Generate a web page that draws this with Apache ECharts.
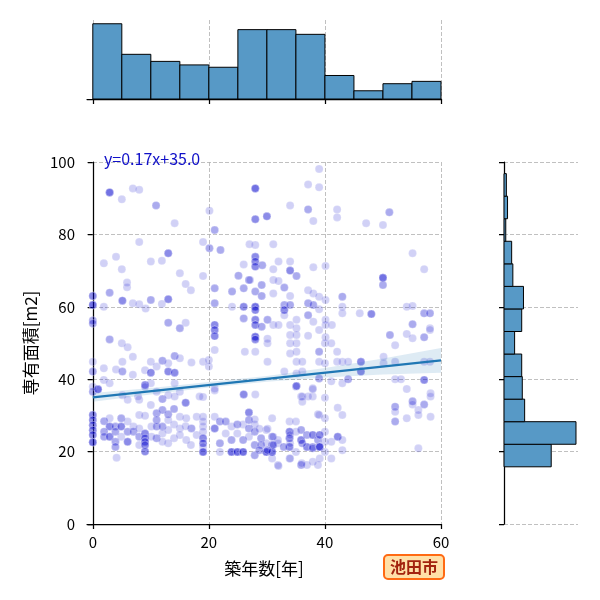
<!DOCTYPE html>
<html><head><meta charset="utf-8">
<script src="https://cdn.jsdelivr.net/npm/echarts@6/dist/echarts.min.js"></script>
<style>html,body{margin:0;padding:0;background:#fff}#c{width:600px;height:600px}</style>
</head><body><div id="c"></div>
<script>
const FONT = "'Noto Sans CJK JP', 'Noto Sans', sans-serif";
const xTicks = [0, 20, 40, 60];
const yTicks = [0, 20, 40, 60, 80, 100];
const xName = '築年数[年]';
const yName = '専有面積[m2]';
const eqText = 'y=0.17x+35.0';
const cityName = '池田市';

// scatter points: [築年数, 専有面積, 重なり件数]
const points = [
[2.9,91.6,4],[6.9,92.7,1],[8.0,92.3,1],[5.0,89.7,1],[10.9,88.0,2],[20.1,86.5,1],[14.1,83.1,1],[21.0,81.2,2],[28.0,92.7,4],[28.0,84.2,3],[8.0,77.9,1],[19.0,77.9,1],[20.1,76.2,2],[22.0,75.7,2],[13.0,74.8,3],[4.0,73.8,1],[1.9,72.0,1],[10.0,72.5,1],[11.9,72.7,1],[5.0,70.4,1],[15.0,69.3,1],[19.0,68.5,1],[16.0,66.3,1],[16.9,64.6,1],[5.9,66.7,1],[5.9,65.4,1],[2.9,63.9,2],[0,63.0,3],[0,60.5,4],[0,56.2,2],[0,55.4,2],[1.9,60.0,1],[5.1,61.7,3],[6.9,61.0,1],[8.0,60.7,1],[9.1,59.5,1],[10.0,61.9,2],[11.9,60.8,1],[13.0,62.1,3],[13.0,55.6,2],[15.0,54.1,2],[16.0,55.6,1],[21.0,65.1,2],[21.0,61.0,2],[21.0,55.0,3],[21.0,53.6,3],[21.0,51.9,3],[24.0,64.2,2],[25.1,68.6,2],[26.0,71.7,1],[26.0,65.1,2],[26.9,67.4,2],[26.0,60.0,3],[24.0,60.0,1],[26.0,56.8,2],[28.0,77.1,1],[28.0,73.8,3],[28.0,72.5,3],[28.0,71.1,3],[28.0,64.2,2],[28.0,60.0,4],[28.0,59.1,3],[28.0,56.4,3],[28.0,55.0,3],[28.0,51.7,4],[27.0,77.3,1],
[39.0,98.1,1],[37.1,93.8,1],[39.0,93.0,1],[30.0,85.0,3],[34.0,88.0,1],[37.1,86.9,2],[38.0,83.7,1],[42.1,86.9,1],[42.1,84.7,1],[47.1,83.1,1],[50.0,82.6,1],[51.1,86.1,2],[31.1,77.3,1],[29.2,71.5,2],[32.0,72.5,1],[34.0,72.5,1],[31.1,70.4,1],[34.0,70.0,3],[35.1,68.5,2],[38.0,70.9,1],[40.1,71.3,1],[27.1,67.4,1],[31.1,67.4,1],[32.0,67.1,1],[29.1,66.0,2],[33.0,65.3,2],[29.1,63.0,2],[31.1,63.7,1],[34.0,63.0,1],[37.1,64.6,1],[38.0,63.7,1],[39.0,62.8,1],[40.1,61.9,1],[43.0,62.8,2],[33.0,60.5,2],[33.0,59.1,3],[34.0,60.5,2],[37.1,61.0,2],[38.0,60.5,2],[39.0,59.3,1],[37.1,57.7,2],[33.0,57.7,1],[43.0,60.0,1],[43.0,58.2,1],[46.0,58.2,1],[48.0,58.0,3],[55.1,74.8,1],[57.1,70.4,1],[50.0,68.0,4],[50.0,66.0,2],[54.1,60.0,1],[55.1,60.2,1],[57.1,58.2,2],[58.1,58.2,2],[55.1,55.2,2],[58.1,54.1,1],[29.1,54.5,2],[30.1,56.4,2],[31.1,55.0,1],[32.0,55.0,1],[34.0,55.0,1],[35.1,56.4,1],[35.1,54.1,1],[38.0,55.9,1],[39.0,53.6,1],[40.1,56.4,1],[40.1,55.0,1],[41.2,55.0,1],[34.0,52.2,1],[35.1,52.2,1],[37.1,52.0,1],[30.1,51.2,1],[40.1,51.6,1],[51.2,52.2,2],[54.1,52.5,1],[57.1,51.6,2],
[2.9,51.0,2],[5.0,49.9,1],[6.0,48.8,1],[6.9,46.2,1],[0,44.8,1],[0,42.1,2],[1.9,43.0,1],[4.0,42.7,1],[5.1,44.8,1],[5.1,42.1,2],[6.9,41.2,1],[9.0,42.5,1],[10.0,44.8,1],[10.0,41.8,3],[11.0,43.5,1],[12.0,45.1,2],[13.0,44.4,1],[13.0,42.1,3],[14.1,46.4,2],[14.1,41.8,3],[15.0,45.8,1],[17.0,44.6,1],[19.0,44.8,1],[20.0,45.3,1],[21.0,48.1,1],[20.0,43.5,1],[26.2,47.6,1],[28.0,47.6,1],[28.0,51.0,3],
[0,36.5,2],[0.9,37.2,4],[0,37.9,1],[1.9,39.8,1],[2.9,38.9,1],[9.0,38.4,3],[10.0,38.9,1],[11.0,36.5,1],[5.1,35.6,1],[6.0,34.3,1],[8.0,34.3,1],[12.0,34.5,2],[14.1,38.9,1],[15.0,36.5,1],[16.0,33.5,3],[19.0,35.1,1],[21.0,37.4,1],[26.0,35.8,3],[28.0,35.8,1],[10.0,32.9,1],[13.0,35.6,1],[9.0,37.9,1],[7.8,35.2,1],[14.1,35.2,1],[18.4,35.2,1],
[0,30.1,3],[0,28.7,3],[0,27.3,3],[0,25.9,3],[0,24.6,3],[0,22.6,4],[1.95,28.4,2],[2.9,29.2,1],[2.9,26.9,3],[1.95,25.5,2],[1.95,24.1,2],[2.9,24.1,3],[3.9,26.9,2],[3.9,25.5,2],[3.9,22.7,2],[3.9,21.3,2],[4.9,29.2,2],[4.9,26.9,3],[4.9,24.1,1],[6.0,28.3,1],[6.0,25.5,2],[6.0,22.7,3],[7.0,25.5,2],[7.0,26.9,1],[8.0,30.1,1],[8.0,26.4,1],[8.0,24.1,2],[8.0,21.8,1],[9.0,29.9,1],[9.0,25.0,3],[9.0,23.7,3],[9.0,22.7,3],[9.0,21.8,3],[9.0,20.0,3],[10.1,26.9,1],[11.0,30.6,2],[11.0,28.7,2],[11.0,26.9,2],[11.0,23.7,2],[12.0,31.5,2],[12.0,26.9,2],[12.0,25.0,1],[13.0,30.3,2],[13.0,28.7,1],[13.0,26.0,1],[14.0,31.8,2],[14.0,23.7,1],[15.0,26.4,1],[15.0,29.6,1],[16.1,29.2,1],[16.1,23.2,1],[17.0,26.4,2],[17.9,29.6,1],[17.9,24.6,1],[4.1,18.3,1],
[14.0,27.5,1],[16.0,27.0,1],[15.0,24.6,1],[13.0,22.3,1],[12.0,22.7,1],[10.1,24.1,1],[16.9,21.8,1],
[21.0,36.9,1],[35.0,37.9,1],[35.9,35.2,1],[37.9,37.5,1],[37.9,35.2,1],[38.8,30.3,1],[26.9,30.8,3],
[19.0,29.6,1],[19.0,28.3,1],[19.0,26.9,1],[19.0,25.5,1],[19.0,23.7,3],[19.0,22.3,3],[19.0,21.3,1],[19.0,19.9,4],
[21.0,29.6,1],[21.0,26.4,3],
[21.9,28.3,2],[22.9,28.3,2],[23.9,26.9,1],[24.9,27.5,2],[25.9,27.5,1],[26.9,28.7,2],[26.9,26.4,2],[27.9,25.5,2],[27.9,27.5,1],[29.0,23.7,2],[29.9,26.0,1],[30.9,29.2,1],[30.9,24.1,2],[30.9,21.8,2],[31.9,23.2,1],[33.9,28.3,1],[35.0,28.3,1],[33.9,25.5,3],[33.9,23.7,3],[33.9,21.3,3],[35.0,25.5,1],[35.9,26.0,2],[35.9,23.2,3],[36.9,24.6,2],[36.9,21.3,3],[37.9,24.6,3],[37.9,21.3,2],[38.8,23.2,2],[22.9,25.0,1],[21.9,22.3,2],[23.9,23.2,2],[24.9,25.0,1],[25.9,23.2,2],[26.9,24.1,1],[27.9,21.8,2],[29.0,21.8,2],[29.9,22.3,1],[29.9,19.9,4],[30.9,19.9,4],[31.9,22.3,1],[32.9,21.3,2],[33.9,18.1,1],[35.0,19.9,1],[35.9,16.3,2],[36.9,16.3,1],[37.9,17.2,1],[38.8,16.3,1],[21.9,19.9,1],[23.9,19.9,4],[24.9,19.9,4],[25.9,19.9,4],[27.9,19.0,2],[30.9,18.1,1],[31.9,16.3,1],
[31.1,24.1,1],[31.1,21.8,2],[30.1,20.4,2],[34.0,24.6,1],[34.0,22.3,1],[36.1,22.3,2],[37.9,20.9,2],[39.0,21.4,2],[36.0,16.8,1],[34.0,18.1,1],[32.0,16.0,1],[27.9,28.9,1],[28.7,26.3,1],[30.1,26.3,1],[28.7,20.4,2],
[40.0,34.9,1],[42.2,32.1,1],[43.0,30.1,1],[39.0,30.1,1],[40.0,29.2,1],[40.0,25.5,1],[39.1,24.6,3],[42.2,24.1,3],[41.1,22.7,1],[43.0,23.2,1],[40.0,22.7,1],[39.1,21.3,4],[40.0,19.9,1],[41.1,18.1,1],[43.0,20.4,1],[39.1,18.1,1],[54.1,37.3,1],[58.2,36.1,1],[58.2,35.2,1],[55.1,33.9,2],[55.1,33.0,1],[57.1,33.0,2],[52.1,32.4,2],[52.1,31.0,1],[52.1,28.3,2],[56.1,31.5,1],[56.1,30.1,1],[54.1,29.2,1],[58.2,29.6,1],[56.1,20.9,1],
[30.1,49.9,1],[34.0,49.9,1],[35.1,49.9,1],[34.0,47.1,1],[35.1,47.6,1],[39.0,47.6,2],[40.0,49.9,1],[41.1,49.9,1],[42.1,47.6,1],[39.0,44.8,1],[40.0,44.4,1],[30.1,44.8,1],[35.1,44.8,1],[36.1,44.8,1],[42.1,44.8,1],[43.0,44.8,1],[44.0,44.8,1],[46.2,44.8,3],[46.2,42.1,3],[50.1,46.2,1],[52.1,44.8,1],[52.1,49.4,1],[55.1,51.3,1],[58.1,53.6,1],[57.1,44.8,1],[58.1,44.8,1],[50.1,44.4,1],[33.0,42.1,1],[35.1,41.6,1],[36.1,42.1,1],[39.0,40.2,2],[41.1,39.4,1],[43.0,38.9,1],[44.0,40.0,2],[52.1,40.0,1],[53.1,40.0,1],[57.1,39.8,3],[35.1,38.1,3],[37.9,37.2,1],[36.1,35.2,1],[37.1,35.2,1],[36.1,33.8,1]
];

// marginal histograms
const topBinEdges = [0,5,10,15,20,25,30,35,40,45,50,55,60];
const topCounts = [64,38,32,29,27,59,59,55,20,7,13,15];
const rightBinEdges = [15.8,22.03,28.26,34.49,40.72,46.95,53.18,59.41,65.64,71.87,78.1,84.33,90.56,96.79];
const rightCounts = [80,122,35,31,30,18,30,33,15,13,3,6,4];

// regression line and confidence band
const regX = [0, 60];
const regY = [35.0, 45.2];
const ciX = [0, 10, 20, 30, 40, 50, 60];
const ciLow = [33.8, 35.8, 37.7, 39.3, 40.5, 41.3, 41.8];
const ciHigh = [36.2, 37.6, 39.2, 40.9, 43.1, 45.7, 48.6];

// ---------- build ----------
const scatterData = [];
points.forEach(p => { for (let i = 0; i < p[2]; i++) scatterData.push([p[0], p[1]]); });
const topData = topCounts.map((c, i) => [topBinEdges[i], topBinEdges[i+1], c]);
const rightData = rightCounts.map((c, i) => [rightBinEdges[i], rightBinEdges[i+1], c]);

const gridLine = { show: true, lineStyle: { color: '#b0b0b0', type: [4, 2], width: 0.8 } };
const spine = { show: true, lineStyle: { color: '#000', width: 1.25 } };
const tick = (vals) => ({ show: true, length: 5, inside: false, lineStyle: { color: '#000', width: 1.25 }, customValues: vals });
const BAR = '#5799c6';

const chart = echarts.init(document.getElementById('c'), null, { renderer: 'canvas' });
chart.setOption({
  animation: false,
  backgroundColor: '#fff',
  textStyle: { fontFamily: FONT },
  title: [
    { text: eqText, left: 104, top: 151, padding: 0,
      textStyle: { color: '#1010c8', fontSize: 16, fontWeight: 'normal', fontFamily: FONT } },
    { text: cityName, left: 384, top: 555, padding: [4, 6],
      backgroundColor: '#ffe0a8', borderColor: '#ff6a13', borderWidth: 2, borderRadius: 4,
      textStyle: { color: '#a3230f', fontSize: 16, fontWeight: 'bold', fontFamily: FONT } }
  ],
  grid: [
    { left: 87, top: 162, width: 354, height: 362 },
    { left: 87, top: 20, width: 354, height: 79 },
    { left: 504, top: 162, width: 74, height: 362 }
  ],
  xAxis: [
    { gridIndex: 0, type: 'value', min: -1, max: 60,
      axisLine: spine, axisTick: tick(xTicks),
      axisLabel: { customValues: xTicks, fontSize: 15, color: '#000', margin: 11, fontFamily: FONT },
      splitLine: gridLine,
      name: xName, nameLocation: 'middle', nameGap: 36,
      nameTextStyle: { fontSize: 17, color: '#000', fontFamily: FONT } },
    { gridIndex: 1, type: 'value', min: -1, max: 60,
      axisLine: spine, axisTick: tick(xTicks),
      axisLabel: { show: false, customValues: xTicks },
      splitLine: gridLine },
    { gridIndex: 2, type: 'value', min: 0, max: 125.4, show: false, splitLine: { show: false } }
  ],
  yAxis: [
    { gridIndex: 0, type: 'value', min: 0, max: 100, interval: 20,
      axisLine: spine, axisTick: tick(yTicks),
      axisLabel: { customValues: yTicks, fontSize: 15, color: '#000', margin: 12, fontFamily: FONT },
      splitLine: gridLine,
      name: yName, nameLocation: 'middle', nameGap: 47,
      nameTextStyle: { fontSize: 17, color: '#000', fontFamily: FONT } },
    { gridIndex: 1, type: 'value', min: 0, max: 67.2, show: false, splitLine: { show: false } },
    { gridIndex: 2, type: 'value', min: 0, max: 100, interval: 20,
      axisLine: spine, axisTick: tick(yTicks),
      axisLabel: { show: false, customValues: yTicks },
      splitLine: gridLine }
  ],
  series: [
    { type: 'scatter', xAxisIndex: 0, yAxisIndex: 0, data: scatterData,
      symbol: 'circle', symbolSize: 8,
      itemStyle: { color: '#0000cd', opacity: 0.18, borderColor: '#ffffff', borderWidth: 1 },
      z: 2 },
    { type: 'custom', xAxisIndex: 0, yAxisIndex: 0, data: [[0, 0]], z: 3, silent: true,
      renderItem: function (params, api) {
        const pts = [];
        for (let i = 0; i < ciX.length; i++) pts.push(api.coord([ciX[i], ciHigh[i]]));
        for (let i = ciX.length - 1; i >= 0; i--) pts.push(api.coord([ciX[i], ciLow[i]]));
        return { type: 'polygon', shape: { points: pts }, style: { fill: 'rgba(31,119,180,0.15)' } };
      } },
    { type: 'line', xAxisIndex: 0, yAxisIndex: 0, data: regX.map((x, i) => [x, regY[i]]),
      showSymbol: false, lineStyle: { color: '#1f77b4', width: 2.3 }, z: 4 },
    { type: 'custom', xAxisIndex: 1, yAxisIndex: 1, data: topData, z: 3,
      renderItem: function (params, api) {
        const p0 = api.coord([api.value(0), 0]);
        const p1 = api.coord([api.value(1), api.value(2)]);
        return { type: 'rect', shape: { x: p0[0], y: p1[1], width: p1[0] - p0[0], height: p0[1] - p1[1] },
          style: { fill: BAR, stroke: '#000', lineWidth: 1 } };
      } },
    { type: 'custom', xAxisIndex: 2, yAxisIndex: 2, data: rightData, z: 3,
      encode: { x: 2, y: [0, 1] },
      renderItem: function (params, api) {
        const p0 = api.coord([0, api.value(0)]);
        const p1 = api.coord([api.value(2), api.value(1)]);
        return { type: 'rect', shape: { x: p0[0], y: p1[1], width: p1[0] - p0[0], height: p0[1] - p1[1] },
          style: { fill: BAR, stroke: '#000', lineWidth: 1 } };
      } }
  ]
});
</script></body></html>
